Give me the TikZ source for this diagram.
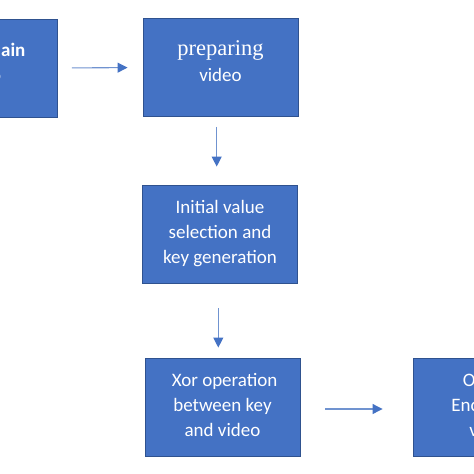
\documentclass[tikz,border=0pt]{standalone}
\usepackage{fontspec}
\setmainfont{Carlito}
\newfontfamily\serifprep{Liberation Serif}
\usetikzlibrary{arrows.meta}
\definecolor{boxfill}{HTML}{4472C4}
\definecolor{boxline}{HTML}{2F528F}
\definecolor{arrline}{HTML}{7093D0}
\newcommand{\lowpad}[1]{\rule[-#1]{0pt}{#1}}
\tikzset{
  blockbox/.style={draw=boxline, line width=0.9pt, fill=boxfill, text=white,
    minimum width=155pt, minimum height=98pt, inner sep=0pt, align=center,
    font=\fontsize{19}{25}\selectfont},
  arr/.style={draw=arrline, line width=1.1pt,
    -{Triangle[length=10pt,width=10pt,fill=boxfill,color=boxfill]}}
}
\begin{document}
\begin{tikzpicture}[x=1pt,y=-1pt]
\useasboundingbox (0,0) rectangle (474,474);
\fill[white] (0,0) rectangle (474,474);
\clip (0,0) rectangle (474,474);
\node[blockbox] (b1) at (-20,68) {\textbf{Select plain}\\video\lowpad{12pt}};
\node[blockbox] (b2) at (220.5,67.5) {{\serifprep\fontsize{22.5}{25}\selectfont preparing}\\[1pt]video\lowpad{13pt}};
\node[blockbox] (b3) at (220,234) {Initial value\\selection and\\key generation};
\node[blockbox] (b4) at (222.5,407) {\ Xor operation\\between key\\and video\lowpad{4pt}};
\node[blockbox] (b5) at (490.5,407) {Output\\Encrypted\\video\lowpad{4pt}};
\draw[arr, shorten <=14pt, shorten >=15pt] (b1.east) -- (b2.west);
\draw[arr, shorten <=10pt, shorten >=18pt] ([xshift=-3.8pt]b2.south) -- ([xshift=-3.3pt]b3.north);
\draw[arr, shorten <=25pt, shorten >=10pt] ([xshift=-1.7pt]b3.south) -- ([xshift=-4.2pt]b4.north);
\draw[arr, shorten <=25pt, shorten >=30pt] ([yshift=-2pt]b4.east) -- ([yshift=-2pt]b5.west);
\end{tikzpicture}
\end{document}
